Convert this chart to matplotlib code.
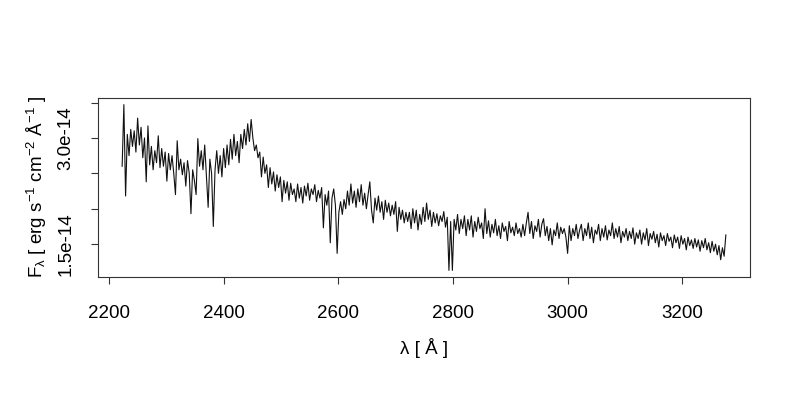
import numpy as np
import matplotlib
matplotlib.use("Agg")
import matplotlib.pyplot as plt

plt.rcParams['font.family'] = ['Liberation Sans', 'DejaVu Sans']
plt.rcParams['mathtext.fontset'] = 'custom'
plt.rcParams['mathtext.rm'] = 'Liberation Sans'
plt.rcParams['mathtext.it'] = 'Liberation Sans'
plt.rcParams['mathtext.sf'] = 'Liberation Sans'

##############################
# DATA (flux in units of 1e-14 erg/s/cm2/A, 3 A steps from 2223 A)
##############################
LAMBDA_START = 2223
LAMBDA_STEP = 3

flux_2223 = [2.60, 3.47, 2.18, 3.05, 2.75, 3.12, 2.88, 3.10, 2.80, 3.28, 2.90,
             3.15, 2.72, 3.00, 2.38, 3.17, 2.62, 2.88, 2.55, 2.82, 2.65, 3.03,
             2.58, 2.85, 2.60, 2.80, 2.39, 2.78, 2.55, 2.75, 2.50, 2.20, 2.96]
flux_2322 = [2.55, 2.70, 2.48, 2.65, 2.32, 2.68, 2.50, 1.93, 2.55, 2.40, 2.20,
             2.99, 2.60, 2.82, 2.55, 2.90, 2.45, 2.02, 2.70, 2.50, 1.75, 2.55,
             2.82, 2.50, 2.75, 2.45, 2.85, 2.58, 2.90, 2.62, 2.98, 2.70, 3.05, 2.75]
flux_2424 = [2.95, 2.65, 3.05, 2.85, 3.12, 2.90, 3.20, 2.95, 3.26, 3.00, 2.82,
             2.90, 2.72, 2.80, 2.45, 2.73, 2.50, 2.62, 2.30, 2.58, 2.35, 2.52,
             2.25, 2.48, 2.30, 2.45, 2.10, 2.40, 2.22, 2.38, 2.12, 2.36, 2.20]
flux_2523 = [2.28, 2.10, 2.35, 2.15, 2.30, 2.08, 2.32, 2.18, 2.36, 2.12, 2.28,
             2.20, 2.34, 2.10, 2.26, 2.15, 2.30, 1.73, 2.20, 2.05, 2.25, 1.52,
             2.15, 2.28, 2.05, 1.37, 1.95, 2.10, 1.92, 2.13, 2.00, 2.25, 2.05]
flux_2622 = [2.35, 2.08, 2.25, 2.02, 2.28, 2.10, 2.34, 2.05, 2.22, 2.00, 2.20,
             2.38, 1.98, 1.80, 2.15, 1.98, 2.18, 1.95, 2.10, 1.85, 2.12, 1.95,
             2.08, 1.90, 2.05, 1.92, 2.10, 1.68, 2.02, 1.85, 1.98, 1.80, 1.95, 1.82]
flux_2724 = [1.95, 1.72, 2.00, 1.80, 1.98, 1.70, 1.92, 1.78, 2.02, 1.82, 2.08,
             1.85, 1.98, 1.75, 1.95, 1.80, 1.93, 1.76, 1.90, 1.82, 1.96, 1.74,
             1.88, 1.13, 1.82, 1.13, 1.85, 1.70, 1.92, 1.65, 1.85, 1.72, 1.90]
flux_2823 = [1.62, 1.85, 1.70, 1.90, 1.60, 1.82, 1.68, 1.88, 1.72, 1.80, 1.58,
             2.00, 1.65, 1.83, 1.60, 1.78, 1.66, 1.85, 1.62, 1.76, 1.58, 1.80,
             1.68, 1.75, 1.55, 1.82, 1.66, 1.74, 1.62, 1.80, 1.65, 1.72, 1.60]
flux_2922 = [1.78, 1.62, 1.80, 1.95, 1.65, 1.82, 1.58, 1.76, 1.68, 1.85, 1.60,
             1.78, 1.86, 1.62, 1.75, 1.55, 1.72, 1.49, 1.70, 1.62, 1.80, 1.58,
             1.74, 1.65, 1.72, 1.60, 1.37, 1.76, 1.55, 1.72, 1.62, 1.78, 1.58, 1.70]
flux_3024 = [1.78, 1.55, 1.72, 1.62, 1.80, 1.58, 1.74, 1.52, 1.70, 1.64, 1.78,
             1.55, 1.72, 1.60, 1.76, 1.56, 1.70, 1.62, 1.80, 1.58, 1.72, 1.60,
             1.75, 1.52, 1.68, 1.60, 1.72, 1.55, 1.68, 1.58, 1.73, 1.50, 1.66]
flux_3123 = [1.58, 1.70, 1.50, 1.66, 1.56, 1.72, 1.48, 1.65, 1.57, 1.68, 1.52,
             1.64, 1.46, 1.66, 1.55, 1.62, 1.48, 1.65, 1.54, 1.60, 1.45, 1.63,
             1.52, 1.60, 1.44, 1.62, 1.50, 1.58, 1.42, 1.60, 1.48, 1.56, 1.44]
flux_3222 = [1.58, 1.46, 1.56, 1.40, 1.55, 1.45, 1.58, 1.42, 1.52, 1.38, 1.54,
             1.40, 1.50, 1.35, 1.48, 1.28, 1.45, 1.33, 1.63]

y_ticks = [1.5e-14, 2.0e-14, 2.5e-14, 3.0e-14, 3.5e-14]
y_tick_labels = ['1.5e-14', '', '', '3.0e-14', '']
x_ticks = [2200, 2400, 2600, 2800, 3000, 3200]


def main():
    flux = np.concatenate([flux_2223, flux_2322, flux_2424, flux_2523, flux_2622,
                           flux_2724, flux_2823, flux_2922, flux_3024, flux_3123,
                           flux_3222]) * 1e-14
    wave = LAMBDA_START + LAMBDA_STEP * np.arange(len(flux))

    fig = plt.figure(figsize=(8, 4), dpi=100)
    ax = fig.add_axes([0.1225, 0.3075, 0.815, 0.4475])
    ax.plot(wave, flux, color='#111111', linewidth=0.8)

    # R-style 4% padding around the data range
    xr = wave.max() - wave.min()
    yr = flux.max() - flux.min()
    ax.set_xlim(wave.min() - 0.04 * xr, wave.max() + 0.04 * xr)
    ax.set_ylim(flux.min() - 0.04 * yr, flux.max() + 0.04 * yr)

    ax.set_xticks(x_ticks)
    ax.set_yticks(y_ticks)
    ax.set_yticklabels(y_tick_labels, rotation=90, va='center')
    ax.tick_params(axis='both', direction='out', length=5, width=0.8,
                   labelsize=13.5, color='#333333')
    ax.tick_params(axis='x', pad=15)
    ax.tick_params(axis='y', pad=12)
    for spine in ax.spines.values():
        spine.set_linewidth(0.8)
        spine.set_color('#333333')

    ax.set_xlabel('λ [ Å ]', fontsize=13.5, labelpad=12)
    ax.set_ylabel(r'F$_{\lambda}$ [ erg s$^{-1}$ cm$^{-2}$ Å$^{-1}$ ]',
                  fontsize=13.5, labelpad=6)

    fig.savefig('out.png', dpi=100)
    plt.close(fig)


if __name__ == '__main__':
    main()
